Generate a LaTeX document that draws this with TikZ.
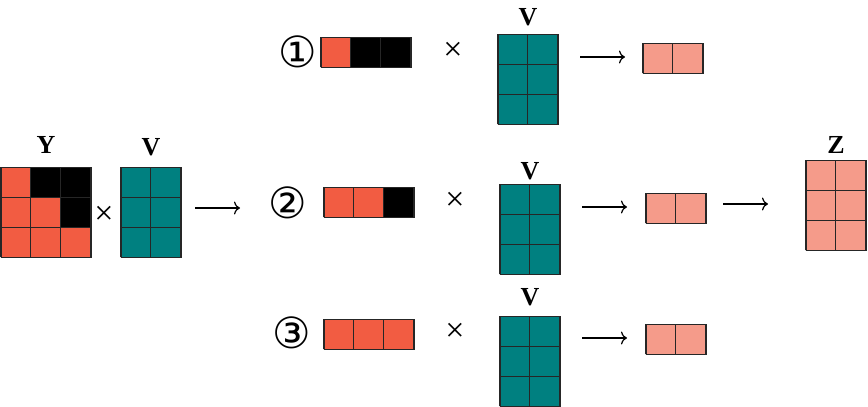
\documentclass[tikz,border=0pt]{standalone}
\usepackage{fontspec}
\setmainfont{Liberation Serif}
\newfontfamily\circfont{DejaVu Sans}
\usepackage{xcolor}
\usepackage{tikz}
\usetikzlibrary{arrows.meta, positioning}
\definecolor{cellred}{RGB}{242,92,66}
\definecolor{cellteal}{RGB}{0,128,128}
\definecolor{cellpink}{RGB}{245,155,138}
\tikzstyle{mat} = [rectangle, draw=black!85, line width=0.8pt, inner sep=0pt]
\tikzstyle{ymat} = [mat, fill=cellred, minimum width=90pt, minimum height=90pt]
\tikzstyle{vmat} = [mat, fill=cellteal, minimum width=60pt, minimum height=90pt]
\tikzstyle{zmat} = [mat, fill=cellpink, minimum width=60pt, minimum height=90pt]
\tikzstyle{rowvec} = [mat, fill=cellred, minimum width=90pt, minimum height=30pt]
\tikzstyle{outvec} = [mat, fill=cellpink, minimum width=60pt, minimum height=30pt]
\tikzstyle{gridlines} = [draw=black!85, line width=0.8pt, step=30pt]
\tikzstyle{matname} = [font=\fontsize{26}{26}\selectfont\bfseries, inner sep=0pt]
\tikzstyle{crosssign} = [font=\fontsize{34}{34}\selectfont, inner sep=0pt]
\tikzstyle{circnum} = [font=\circfont\fontsize{43}{43}\selectfont, inner sep=0pt]
\tikzstyle{arrow} = [line width=1.2pt,->,>={Computer Modern Rightarrow[length=6pt,width=13pt]}]

\begin{document}
\begin{tikzpicture}[x=1pt, y=1pt]
\useasboundingbox (0,0) rectangle (868,407);

% left: Y x V
\node (y) [ymat] at (46,195) {};
\fill [black] (y.north) ++(-15,0) rectangle ++(60,-30);
\fill [black] (y.east) ++(-30,15) rectangle ++(30,-30);
\draw [gridlines, shift={(y.south west)}] (0,0) grid (90,90);
\node (yname) [matname, above=13pt of y] {Y};
\node (x0) [crosssign] at (104,192) {×};
\node (v0) [vmat] at (151,195) {};
\draw [gridlines, shift={(v0.south west)}] (0,0) grid (60,90);
\node (v0name) [matname, above=11pt of v0] {V};

% row 1
\node (n1) [circnum] at (298,355) {①};
\node (r1) [rowvec] at (366,355) {};
\fill [black] (r1.north) ++(-15,0) rectangle (r1.south east);
\draw [gridlines, shift={(r1.south west)}] (0,0) grid (90,30);
\node (x1) [crosssign] at (453,356) {×};
\node (v1) [vmat] at (528,328) {};
\draw [gridlines, shift={(v1.south west)}] (0,0) grid (60,90);
\node (v1name) [matname, above=8pt of v1] {V};
\node (o1) [outvec] at (673,349) {};
\draw [gridlines, shift={(o1.south west)}] (0,0) grid (60,30);

% row 2
\node (n2) [circnum] at (288,204) {②};
\node (r2) [rowvec] at (369,205) {};
\fill [black] (r2.north east) ++(-30,0) rectangle (r2.south east);
\draw [gridlines, shift={(r2.south west)}] (0,0) grid (90,30);
\node (x2) [crosssign] at (455,206) {×};
\node (v2) [vmat] at (530,178) {};
\draw [gridlines, shift={(v2.south west)}] (0,0) grid (60,90);
\node (v2name) [matname, above=4pt of v2] {V};
\node (o2) [outvec] at (676,199) {};
\draw [gridlines, shift={(o2.south west)}] (0,0) grid (60,30);

% row 3
\node (n3) [circnum] at (292,74) {③};
\node (r3) [rowvec] at (369,73) {};
\draw [gridlines, shift={(r3.south west)}] (0,0) grid (90,30);
\node (x3) [crosssign] at (455,75) {×};
\node (v3) [vmat] at (530,46) {};
\draw [gridlines, shift={(v3.south west)}] (0,0) grid (60,90);
\node (v3name) [matname, above=10pt of v3] {V};
\node (o3) [outvec] at (676,68) {};
\draw [gridlines, shift={(o3.south west)}] (0,0) grid (60,30);

% result Z
\node (z) [zmat] at (836,202) {};
\draw [gridlines, shift={(z.south west)}] (0,0) grid (60,90);
\node (zname) [matname, above=6pt of z] {Z};

% arrows
\coordinate (a0s) at (195,199);
\coordinate (a0e) at (240,199);
\coordinate (a1s) at (580,350);
\coordinate (a1e) at (625,350);
\coordinate (a2s) at (582,200);
\coordinate (a2e) at (627,200);
\coordinate (a3s) at (582,69);
\coordinate (a3e) at (627,69);
\coordinate (a4s) at (723,203);
\coordinate (a4e) at (768,203);
\draw [arrow] (a0s) -- (a0e);
\draw [arrow] (a1s) -- (a1e);
\draw [arrow] (a2s) -- (a2e);
\draw [arrow] (a3s) -- (a3e);
\draw [arrow] (a4s) -- (a4e);
\end{tikzpicture}
\end{document}
